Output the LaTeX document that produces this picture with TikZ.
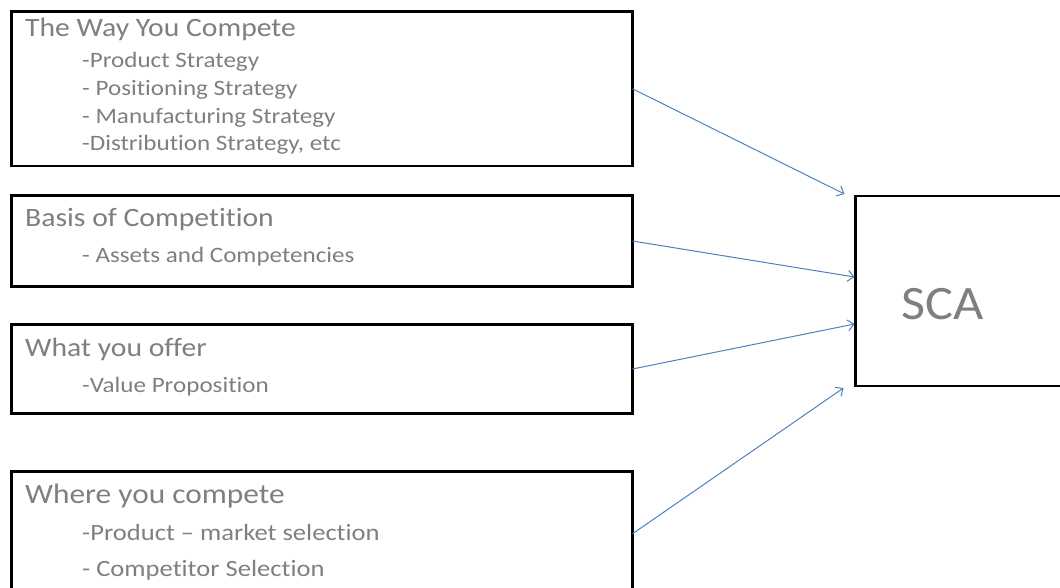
\documentclass[tikz,border=0pt]{standalone}
\usepackage{fontspec}
\setmainfont{Carlito}[Ligatures={NoCommon}]
\usepackage{graphicx}
\usetikzlibrary{arrows.meta,calc}
\definecolor{txtgray}{HTML}{7F7F7F}
\definecolor{arrowblue}{HTML}{4F81BD}
\newcommand{\hstretch}[1]{\scalebox{1.12}[1]{#1}}
\newcommand{\istretch}[1]{\scalebox{1.14}[1]{#1}}
\tikzset{
  box/.style={draw=black, line width=2.7pt, rectangle, inner sep=0pt, outer sep=0pt, anchor=north west, minimum width=621pt},
  ttl/.style={anchor=base west, inner sep=0pt, text=txtgray, font=\fontsize{26.5}{30}\selectfont},
  itm/.style={anchor=base west, inner sep=0pt, text=txtgray, font=\fontsize{22}{26}\selectfont},
  ttlbig/.style={ttl, font=\fontsize{28}{32}\selectfont},
  itmbig/.style={itm, font=\fontsize{23.3}{27}\selectfont},
  conn/.style={draw=arrowblue, line width=1pt, -{Straight Barb[length=6pt,width=11pt]}},
}
\begin{document}
\begin{tikzpicture}[x=1pt,y=-1pt]
\useasboundingbox (0,0) rectangle (1060,587);
\clip (0,0) rectangle (1060,587);
% boxes
\node[box, minimum height=154.5pt] (b1) at (11.5,11.5) {};
\node[box, minimum height=91pt] (b2) at (11.5,195.5) {};
\node[box, minimum height=89pt] (b3) at (11.5,324.5) {};
\node[box, minimum height=124.5pt] (b4) at (11.5,471.5) {};
\node[box, minimum width=230pt, minimum height=190pt] (sca) at (855.5,196) {};
% box 1 text
\node[ttl] (t1) at (25,36.5) {\hstretch{The Way You Compete}};
\node[itm] (t1a) at (82,67) {\istretch{-Product Strategy}};
\node[itm] (t1b) at (82,95) {\istretch{- Positioning Strategy}};
\node[itm] (t1c) at (82,123) {\istretch{- Manufacturing Strategy}};
\node[itm] (t1d) at (82,150.5) {\istretch{-Distribution Strategy, etc}};
% box 2 text
\node[ttl] (t2) at (25,226) {\hstretch{Basis of Competition}};
\node[itm] (t2a) at (82,262) {\istretch{- Assets and Competencies}};
% box 3 text
\node[ttl] (t3) at (25,356) {\hstretch{What you offer}};
\node[itm] (t3a) at (82,392) {\istretch{-Value Proposition}};
% box 4 text
\node[ttlbig] (t4) at (25,503) {\hstretch{Where you compete}};
\node[itmbig] (t4a) at (82,540) {\istretch{-Product – market selection}};
\node[itmbig] (t4b) at (82,576) {\istretch{- Competitor Selection}};
% SCA
\node[anchor=base west, inner sep=0pt, text=txtgray, font=\fontsize{48}{52}\selectfont] (scat) at (901,319) {\scalebox{1.09}[1]{SCA}};
% connector ends
\coordinate (e1) at ($(sca.north west)+(-11,-2)$);
\coordinate (e2) at ($(sca.north west)+(-1,81)$);
\coordinate (e3) at ($(sca.north west)+(-1,128)$);
\coordinate (e4) at ($(sca.north west)+(-12,192)$);
\draw[conn] (b1.east) -- (e1);
\draw[conn] (b2.east) -- (e2);
\draw[conn] (b3.east) -- (e3);
\draw[conn] (b4.east) -- (e4);
\end{tikzpicture}
\end{document}
